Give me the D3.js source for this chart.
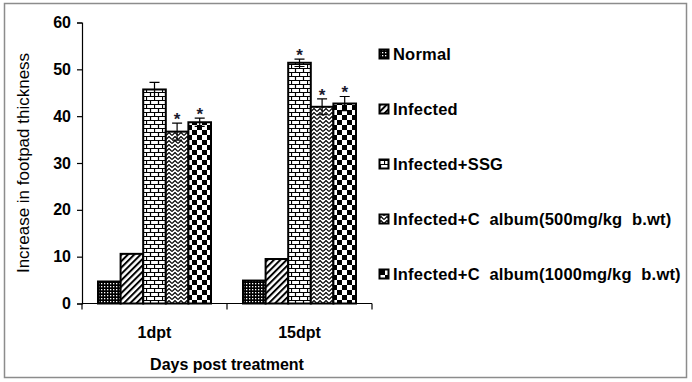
<!DOCTYPE html>
<html><head><meta charset="utf-8">
<script src="https://cdn.jsdelivr.net/npm/d3@7"></script>
<style>body{margin:0;background:#fff}svg{display:block}text{font-family:"Liberation Sans",Arial,sans-serif}</style>
</head><body><svg id="c" width="692" height="382"></svg>
<script>
const categories = ["1dpt", "15dpt"];
const seriesNames = ["Normal", "Infected", "Infected+SSG", "Infected+C  album(500mg/kg  b.wt)", "Infected+C  album(1000mg/kg  b.wt)"];
const values1dpt = [4.7, 10.6, 45.7, 36.7, 38.7];
const values15dpt = [4.9, 9.5, 51.4, 42.0, 42.7];
const errors1dpt = [0, 0, 1.5, 1.8, 0.9];
const errors15dpt = [0, 0, 0.8, 1.7, 1.5];
const signif1dpt = [0, 0, 0, 1, 1];
const signif15dpt = [0, 0, 1, 1, 1];
const yTicks = [0, 10, 20, 30, 40, 50, 60];
const patternIds = ["pDots", "pDiag", "pBrick", "pZig", "pCheck"];

const values = [values1dpt, values15dpt];
const errors = [errors1dpt, errors15dpt];
const signif = [signif1dpt, signif15dpt];

const svg = d3.select("#c");
// outer frame
svg.append("rect").attr("x", 4.5).attr("y", 3.5).attr("width", 682).attr("height", 374)
  .attr("fill", "#fff").attr("stroke", "#8c8c8c").attr("stroke-width", 1.5);

const defs = svg.append("defs");
// dots
let p = defs.append("pattern").attr("id", "pDots").attr("width", 3).attr("height", 3).attr("patternUnits", "userSpaceOnUse");
p.append("rect").attr("width", 3).attr("height", 3).attr("fill", "#000");
p.append("rect").attr("x", 1).attr("y", 1).attr("width", 1.3).attr("height", 1.3).attr("fill", "#fff");
// diagonal
p = defs.append("pattern").attr("id", "pDiag").attr("width", 4.5).attr("height", 4.5).attr("patternUnits", "userSpaceOnUse").attr("patternTransform", "rotate(45)");
p.append("rect").attr("width", 4.5).attr("height", 4.5).attr("fill", "#fff");
p.append("rect").attr("width", 2).attr("height", 4.5).attr("fill", "#000");
// brick
p = defs.append("pattern").attr("id", "pBrick").attr("width", 8).attr("height", 8).attr("patternUnits", "userSpaceOnUse");
p.append("rect").attr("width", 8).attr("height", 8).attr("fill", "#fff");
p.append("path").attr("d", "M0,0.5H8M0,4.5H8M0.5,0.5V4.5M4.5,4.5V8").attr("stroke", "#000").attr("stroke-width", 1.2).attr("fill", "none");
// zigzag
p = defs.append("pattern").attr("id", "pZig").attr("width", 6).attr("height", 4).attr("patternUnits", "userSpaceOnUse");
p.append("rect").attr("width", 6).attr("height", 4).attr("fill", "#fff");
p.append("path").attr("d", "M0,3.5L3,0.5L6,3.5").attr("stroke", "#000").attr("stroke-width", 1.2).attr("fill", "none");
// checker
p = defs.append("pattern").attr("id", "pCheck").attr("width", 10).attr("height", 10).attr("patternUnits", "userSpaceOnUse");
p.append("rect").attr("width", 10).attr("height", 10).attr("fill", "#fff");
p.append("rect").attr("width", 5).attr("height", 5).attr("fill", "#000");
p.append("rect").attr("x", 5).attr("y", 5).attr("width", 5).attr("height", 5).attr("fill", "#000");

const mLeft = 82, mRight = 372, mTop = 22.5, mBottom = 303.5;
const y = d3.scaleLinear().domain([0, 60]).range([mBottom, mTop]);
const x0 = d3.scaleBand().domain(categories).range([mLeft, mRight]).padding(0);
const x1 = d3.scaleBand().domain(d3.range(seriesNames.length)).range([16, x0.bandwidth() - 16]).padding(0);

// bars
const g = svg.append("g");
categories.forEach((c, ci) => {
  const gg = g.append("g").attr("transform", `translate(${x0(c)},0)`);
  values[ci].forEach((v, si) => {
    gg.append("rect").attr("x", x1(si)).attr("y", y(v)).attr("width", x1.bandwidth()).attr("height", y(0) - y(v))
      .attr("fill", `url(#${patternIds[si]})`).attr("stroke", "#000").attr("stroke-width", 2);
  });
  values[ci].forEach((v, si) => {
    const e = errors[ci][si];
    const cx = x1(si) + x1.bandwidth() / 2;
    if (e > 0) {
      gg.append("path").attr("d", `M${cx},${y(v + e)}V${y(v - e)}M${cx - 5},${y(v + e)}H${cx + 5}M${cx - 5},${y(v - e)}H${cx + 5}`)
        .attr("stroke", "#000").attr("stroke-width", 1.2).attr("fill", "none");
    }
    if (signif[ci][si]) {
      gg.append("text").attr("x", cx).attr("y", y(v + e) + 2).attr("text-anchor", "middle")
        .attr("font-size", 17).attr("font-weight", "bold").attr("fill", "#1a1a2e").text("*");
    }
  });
});

// y axis
const ya = svg.append("g").attr("transform", `translate(${mLeft},0)`)
  .call(d3.axisLeft(y).tickValues(yTicks).tickSize(5).tickPadding(6));
ya.select(".domain").attr("stroke", "#000").attr("stroke-width", 1.2);
ya.selectAll(".tick line").attr("stroke", "#000").attr("stroke-width", 1.2);
ya.selectAll("text").attr("font-size", 16).attr("font-weight", "bold").attr("fill", "#000")
  .style("font-family", "'Liberation Sans', Arial, sans-serif");

// x axis
const xa = svg.append("g").attr("transform", `translate(0,${mBottom})`);
xa.append("line").attr("x1", mLeft).attr("x2", mRight).attr("stroke", "#000").attr("stroke-width", 1.2);
const bounds = [mLeft].concat(categories.map(c => x0(c) + x0.bandwidth()));
xa.selectAll("line.tk").data(bounds).join("line").attr("class", "tk")
  .attr("x1", d => d).attr("x2", d => d).attr("y1", 0).attr("y2", 6).attr("stroke", "#000").attr("stroke-width", 1.2);
xa.selectAll("text.cat").data(categories).join("text").attr("class", "cat")
  .attr("x", d => x0(d) + x0.bandwidth() / 2).attr("y", 34).attr("text-anchor", "middle")
  .attr("font-size", 16).attr("font-weight", "bold").text(d => d);

svg.append("text").attr("x", 227).attr("y", 370).attr("text-anchor", "middle")
  .attr("font-size", 16).attr("font-weight", "bold").text("Days post treatment");
svg.append("text").attr("transform", `translate(29,${(mTop + mBottom) / 2}) rotate(-90)`).attr("text-anchor", "middle")
  .attr("font-size", 17).text("Increase in footpad thickness");

// legend
const lg = svg.append("g");
const ly = d3.scalePoint().domain(d3.range(seriesNames.length)).range([54, 274]);
seriesNames.forEach((s, i) => {
  lg.append("rect").attr("x", 379.5).attr("y", ly(i) - 4.5).attr("width", 9).attr("height", 9)
    .attr("fill", `url(#${patternIds[i]})`).attr("stroke", "#000").attr("stroke-width", 2);
  lg.append("text").attr("x", 393).attr("y", ly(i) + 6).attr("font-size", 16.5).attr("font-weight", "bold")
    .attr("letter-spacing", 0.2)
    .style("white-space", "pre").attr("xml:space", "preserve").text(s);
});
</script></body></html>
